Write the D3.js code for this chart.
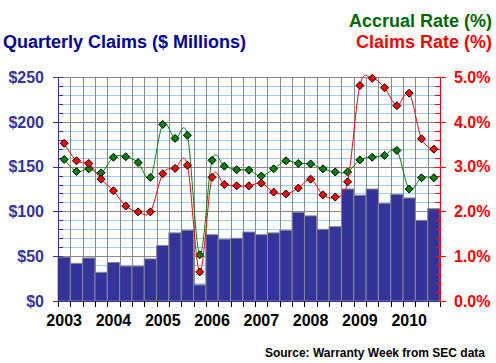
<!DOCTYPE html>
<html lang="en">
<head>
    <meta charset="UTF-8">
    <title>Quarterly Claims</title>
    <style>
        body { margin: 0; background: #fff; }
        svg text { font-family: "Liberation Sans", Arial, sans-serif; font-weight: bold; }
    </style>
</head>
<body>
    <script src="https://cdn.jsdelivr.net/npm/d3@7"></script>
    <div id="chart"></div>
    <script>
    // quarterly data, 2003Q1 - 2010Q3
    var quarters = ["2003Q1","2003Q2","2003Q3","2003Q4","2004Q1","2004Q2","2004Q3","2004Q4",
                    "2005Q1","2005Q2","2005Q3","2005Q4","2006Q1","2006Q2","2006Q3","2006Q4",
                    "2007Q1","2007Q2","2007Q3","2007Q4","2008Q1","2008Q2","2008Q3","2008Q4",
                    "2009Q1","2009Q2","2009Q3","2009Q4","2010Q1","2010Q2","2010Q3"];
    var years = ["2003","2004","2005","2006","2007","2008","2009","2010"];

    var claims = [49, 42, 48, 32, 43, 39, 39, 47, 62, 76, 79, 18, 74, 69, 70, 77,
                  74, 76, 79, 99, 95, 80, 83, 125, 118, 125, 109, 119, 115, 90, 103];
    var claimsRate = [3.52, 3.13, 3.07, 2.72, 2.46, 2.12, 1.99, 1.99, 2.84, 2.96, 3.03, 0.65, 2.76, 2.60, 2.57, 2.57,
                      2.63, 2.43, 2.39, 2.52, 2.72, 2.37, 2.32, 2.66, 4.81, 4.97, 4.76, 4.36, 4.64, 3.62, 3.39];
    var accrualRate = [3.16, 2.89, 2.95, 2.86, 3.21, 3.22, 3.09, 2.76, 3.94, 3.63, 3.70, 1.03, 3.14, 3.01, 2.93, 2.92,
                       2.79, 2.95, 3.13, 3.07, 3.06, 2.95, 2.88, 2.88, 3.15, 3.21, 3.25, 3.36, 2.50, 2.75, 2.75];

    var leftTicks = [0, 50, 100, 150, 200, 250];
    var rightTicks = [0, 1, 2, 3, 4, 5];

    var width = 496,
        height = 363,
        pLeft = 58, pRight = 440,
        pTop = 77, pBottom = 301;

    var navy = "#333399", grey = "#888888", lightBlue = "#99ccff";

    var svg = d3.select("#chart").append("svg")
        .attr("width", width)
        .attr("height", height);

    var x = d3.scaleBand().domain(quarters).range([pLeft, pRight]).padding(0);
    var y = d3.scaleLinear().domain([0, 250]).range([pBottom, pTop]);
    var yr = d3.scaleLinear().domain([0, 5]).range([pBottom, pTop]);

    function py(v) { return Math.round(v) + 0.5; }

    // horizontal grid, minor every $10, major every $50
    var minor = d3.range(10, 250, 10).filter(function(v) { return v % 50 != 0; });
    svg.append("g").selectAll("line").data(minor).enter().append("line")
        .attr("x1", pLeft).attr("x2", pRight)
        .attr("y1", function(d) { return py(y(d)); })
        .attr("y2", function(d) { return py(y(d)); })
        .attr("stroke", lightBlue);
    svg.append("g").selectAll("line").data(leftTicks.slice(1)).enter().append("line")
        .attr("x1", pLeft).attr("x2", pRight)
        .attr("y1", function(d) { return py(y(d)); })
        .attr("y2", function(d) { return py(y(d)); })
        .attr("stroke", grey);

    // vertical grid at quarter boundaries
    svg.append("g").selectAll("line").data(quarters.slice(1)).enter().append("line")
        .attr("x1", function(d) { return py(x(d)); })
        .attr("x2", function(d) { return py(x(d)); })
        .attr("y1", pTop).attr("y2", pBottom)
        .attr("stroke", grey);

    // bars
    svg.append("g").selectAll("rect").data(claims).enter().append("rect")
        .attr("x", function(d, i) { return x(quarters[i]); })
        .attr("y", function(d) { return y(d); })
        .attr("width", x.bandwidth())
        .attr("height", function(d) { return pBottom - y(d); })
        .attr("fill", navy)
        .attr("stroke", grey)
        .attr("stroke-width", 1);

    // left axis
    var la = svg.append("g");
    la.append("line").attr("x1", pLeft + 0.5).attr("x2", pLeft + 0.5).attr("y1", pTop).attr("y2", pBottom + 0.5).attr("stroke", navy);
    la.selectAll(".minor").data(d3.range(10, 260, 10)).enter().append("line")
        .attr("x1", pLeft).attr("x2", pLeft + 5)
        .attr("y1", function(d) { return py(y(d)); })
        .attr("y2", function(d) { return py(y(d)); })
        .attr("stroke", navy);
    la.selectAll(".major").data(leftTicks).enter().append("line")
        .attr("x1", pLeft - 5).attr("x2", pLeft)
        .attr("y1", function(d) { return py(y(d)); })
        .attr("y2", function(d) { return py(y(d)); })
        .attr("stroke", navy);
    la.selectAll("text").data(leftTicks).enter().append("text")
        .attr("x", 44)
        .attr("y", function(d) { return y(d); })
        .attr("dy", "0.36em")
        .attr("text-anchor", "end")
        .attr("fill", navy)
        .style("font-size", "16px")
        .text(function(d) { return "$" + d; });

    // bottom axis
    svg.append("line").attr("x1", pLeft).attr("x2", pRight).attr("y1", pBottom + 0.5).attr("y2", pBottom + 0.5).attr("stroke", navy);
    svg.append("g").selectAll("line").data(d3.range(quarters.length + 1)).enter().append("line")
        .attr("x1", function(d) { return py(pLeft + d * x.step()); })
        .attr("x2", function(d) { return py(pLeft + d * x.step()); })
        .attr("y1", pBottom).attr("y2", pBottom + 6)
        .attr("stroke", "#000");
    svg.append("g").selectAll("text").data(years).enter().append("text")
        .attr("x", function(d) { return x(d + "Q1") + x.bandwidth() / 2; })
        .attr("y", 326)
        .attr("text-anchor", "middle")
        .attr("fill", "#000")
        .style("font-size", "16px")
        .text(function(d) { return d; });

    // right axis
    var ra = svg.append("g");
    ra.append("line").attr("x1", pRight + 0.5).attr("x2", pRight + 0.5).attr("y1", pTop).attr("y2", pBottom + 0.5).attr("stroke", "red");
    ra.selectAll(".minor").data(d3.range(0.2, 5.1, 0.2)).enter().append("line")
        .attr("x1", pRight - 5).attr("x2", pRight)
        .attr("y1", function(d) { return py(yr(d)); })
        .attr("y2", function(d) { return py(yr(d)); })
        .attr("stroke", "red");
    ra.selectAll(".major").data(rightTicks).enter().append("line")
        .attr("x1", pRight).attr("x2", pRight + 6)
        .attr("y1", function(d) { return py(yr(d)); })
        .attr("y2", function(d) { return py(yr(d)); })
        .attr("stroke", "red");
    ra.selectAll("text").data(rightTicks).enter().append("text")
        .attr("x", 454)
        .attr("y", function(d) { return yr(d); })
        .attr("dy", "0.36em")
        .attr("fill", "red")
        .style("font-size", "16px")
        .text(function(d) { return d.toFixed(1) + "%"; });

    // rate lines
    var line = d3.line()
        .x(function(d, i) { return x(quarters[i]) + x.bandwidth() / 2; })
        .y(function(d) { return yr(d); })
        .curve(d3.curveCatmullRom.alpha(0));

    var diamond = "M0,-4L4,0L0,4L-4,0Z";

    function drawSeries(data, color) {
        svg.append("path").datum(data)
            .attr("fill", "none")
            .attr("stroke", color)
            .attr("stroke-width", 1)
            .attr("d", line);
        svg.append("g").selectAll("path").data(data).enter().append("path")
            .attr("transform", function(d, i) { return "translate(" + (x(quarters[i]) + x.bandwidth() / 2) + "," + yr(d) + ")"; })
            .attr("d", diamond)
            .attr("fill", color)
            .attr("stroke", "#000")
            .attr("stroke-width", 1);
    }
    drawSeries(accrualRate, "#008000");
    drawSeries(claimsRate, "#ff0000");

    // titles
    svg.append("text").attr("x", 3).attr("y", 48).attr("fill", "#000099")
        .style("font-size", "18px").text("Quarterly Claims ($ Millions)");
    svg.append("text").attr("x", 492).attr("y", 27).attr("text-anchor", "end").attr("fill", "#006600")
        .style("font-size", "18px").text("Accrual Rate (%)");
    svg.append("text").attr("x", 492).attr("y", 48).attr("text-anchor", "end").attr("fill", "#ff0000")
        .style("font-size", "18px").text("Claims Rate (%)");
    svg.append("text").attr("x", 485).attr("y", 357).attr("text-anchor", "end").attr("fill", "#000")
        .style("font-size", "12px").text("Source: Warranty Week from SEC data");
    </script>
</body>
</html>
